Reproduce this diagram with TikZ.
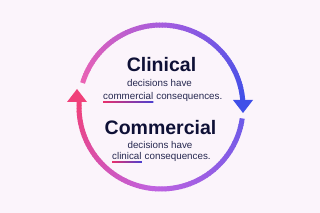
\documentclass[tikz,border=0pt]{standalone}
\usetikzlibrary{calc}
\usepackage{fontspec}
\setmainfont{Liberation Sans}
\definecolor{bgc}{HTML}{FBF4FB}
\definecolor{navy}{HTML}{0E1036}
\definecolor{txtc}{HTML}{262850}
\definecolor{tA}{HTML}{EA62B4}
\definecolor{tB}{HTML}{A05CE0}
\definecolor{tC}{HTML}{3F4FE8}
\definecolor{bA}{HTML}{6C5AE8}
\definecolor{bB}{HTML}{C062E0}
\definecolor{bC}{HTML}{F0407A}
\definecolor{ulA}{HTML}{E8306C}
\definecolor{ulB}{HTML}{4A3FD0}
\tikzset{
  big/.style={font=\fontsize{19.5}{22}\selectfont\bfseries, text=navy, inner sep=0pt},
  small/.style={font=\fontsize{9.8}{11}\selectfont, text=txtc, inner sep=0pt},
  seg/.style={line width=5pt, line cap=butt},
}
\begin{document}
\begin{tikzpicture}[x=1pt,y=-1pt]
\fill[bgc] (0,0) rectangle (320,213);
\useasboundingbox (0,0) rectangle (320,213);
\coordinate (c) at (161,107);
% top arc: 163 -> 5 (visual degrees, counter-clockwise positive)
\foreach \i in {0,...,79}{
  \pgfmathsetmacro\aS{163-\i*1.99}
  \pgfmathsetmacro\aE{\aS-2.6}
  \pgfmathsetmacro\t{\i/79}
  \pgfmathsetmacro\p{\t<0.5 ? 100*(1-2*\t) : 100*(2-2*\t)}
  \ifdim\t pt<0.5pt
    \draw[seg, color=tA!\p!tB] ($(c)+(-\aS:82)$) arc[start angle=-\aS, end angle=-\aE, radius=82];
  \else
    \draw[seg, color=tB!\p!tC] ($(c)+(-\aS:82)$) arc[start angle=-\aS, end angle=-\aE, radius=82];
  \fi
}
% right arrow head
\fill[tC] (233,100) -- (253,100) -- (243,113) -- cycle;
% bottom arc: -8 -> -183.5
\foreach \i in {0,...,79}{
  \pgfmathsetmacro\aS{-8-\i*2.19}
  \pgfmathsetmacro\aE{\aS-2.7}
  \pgfmathsetmacro\t{\i/79}
  \pgfmathsetmacro\p{\t<0.5 ? 100*(1-2*\t) : 100*(2-2*\t)}
  \ifdim\t pt<0.5pt
    \draw[seg, color=bA!\p!bB] ($(c)+(-\aS:82)$) arc[start angle=-\aS, end angle=-\aE, radius=82];
  \else
    \draw[seg, color=bB!\p!bC] ($(c)+(-\aS:82)$) arc[start angle=-\aS, end angle=-\aE, radius=82];
  \fi
}
% left arrow head
\fill[bC] (67,102) -- (87,102) -- (77,89) -- cycle;
% texts
\node[big, anchor=base] (t1) at (161.5,72) {Clinical};
\node[small, anchor=base] (t2) at (159.5,87) {decisions have};
\node[small, anchor=base west] (u1) at (103,99.5) {commercial};
\node[small, anchor=base west] (t3) at ($(u1.base east)+(2.7,0)$) {consequences.};
\shade[left color=ulA, right color=ulB] ($(u1.base west)+(0,2.3)$) rectangle ($(u1.base east)+(0,3.4)$);
\node[big, anchor=base] (t4) at (160.5,135) {Commercial};
\node[small, anchor=base] (t5) at (160,149) {decisions have};
\node[small, anchor=base west] (u2) at (112,159.5) {clinical};
\node[small, anchor=base west] (t6) at ($(u2.base east)+(2.7,0)$) {consequences.};
\shade[left color=ulA, right color=ulB] ($(u2.base west)+(0,2.3)$) rectangle ($(u2.base east)+(0,3.4)$);
\end{tikzpicture}
\end{document}
